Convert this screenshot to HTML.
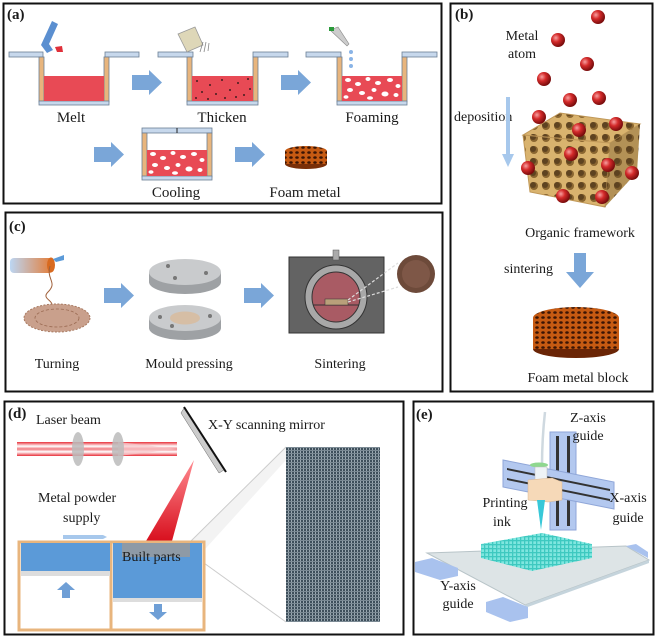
<!DOCTYPE html>
<html><head><meta charset="utf-8"><style>
html,body{margin:0;padding:0;background:#fff}
svg{display:block}
text{font-family:"Liberation Serif",serif;fill:#1a1a1a}
</style></head><body>
<svg width="656" height="637" viewBox="0 0 656 637" xmlns="http://www.w3.org/2000/svg">
<defs>
<radialGradient id="sph" cx="35%" cy="35%" r="65%"><stop offset="0" stop-color="#f7a0a0"/><stop offset="0.45" stop-color="#d42a2a"/><stop offset="1" stop-color="#7a0d0d"/></radialGradient>
<pattern id="foam" width="6" height="5" patternUnits="userSpaceOnUse"><rect width="6" height="5" fill="#c65a12"/><ellipse cx="3" cy="2.5" rx="1.8" ry="1.3" fill="#3a1404"/></pattern>
<pattern id="cube" width="12" height="12" patternUnits="userSpaceOnUse"><rect width="12" height="12" fill="#d9b36e"/><circle cx="6" cy="6" r="4" fill="#8a6630"/><circle cx="5" cy="5" r="3" fill="#5e4320"/></pattern>
<pattern id="mesh" width="3" height="3" patternUnits="userSpaceOnUse"><rect width="3" height="3" fill="#3e4f5b"/><rect width="1" height="3" fill="#9aa8b1"/><rect width="3" height="1" fill="#7b8a94"/></pattern>
<pattern id="grid" width="4" height="4" patternUnits="userSpaceOnUse"><rect width="4" height="4" fill="#7fe6df"/><rect width="1.3" height="4" fill="#3ec9c0"/><rect width="4" height="1.3" fill="#3ec9c0"/></pattern>
<linearGradient id="beam" x1="0" x2="0" y1="0" y2="1"><stop offset="0" stop-color="#e8303a"/><stop offset="0.3" stop-color="#fff"/><stop offset="0.5" stop-color="#f07a80"/><stop offset="0.7" stop-color="#fff"/><stop offset="1" stop-color="#e8303a"/></linearGradient>
<linearGradient id="cyl" x1="0" x2="1"><stop offset="0" stop-color="#bcd6f3"/><stop offset="1" stop-color="#e47b35"/></linearGradient>
<linearGradient id="cone" x1="0" x2="0" y1="0" y2="1"><stop offset="0" stop-color="#ff8a90"/><stop offset="1" stop-color="#d8101e"/></linearGradient>
<g id="arr"><path d="M0,5 H17 V0 L30,12.5 L17,25 V20 H0 Z" fill="#7aa6d8"/></g>
</defs>

<rect x="3.5" y="3.5" width="438" height="200" fill="none" stroke="#111" stroke-width="2"/>
<rect x="450.5" y="3.5" width="202" height="388" fill="none" stroke="#111" stroke-width="2"/>
<rect x="5.5" y="212.5" width="437" height="179" fill="none" stroke="#111" stroke-width="2"/>
<rect x="4.5" y="401.5" width="399" height="233" fill="none" stroke="#111" stroke-width="2"/>
<rect x="413.5" y="401.5" width="240" height="233" fill="none" stroke="#111" stroke-width="2"/>

<!-- (a) -->
<text x="7" y="19" font-size="15" font-weight="bold">(a)</text>
<g stroke="#6c7f95" stroke-width="0.8">
<rect x="9" y="52" width="34" height="5" fill="#c7d8ec"/><rect x="105" y="52" width="34" height="5" fill="#c7d8ec"/>
<rect x="39" y="57" width="5" height="45" fill="#e8b57d"/><rect x="104" y="57" width="5" height="45" fill="#e8b57d"/>
<rect x="39" y="101" width="70" height="4" fill="#c7d8ec"/>
<rect x="158" y="52" width="35" height="5" fill="#c7d8ec"/><rect x="253" y="52" width="35" height="5" fill="#c7d8ec"/>
<rect x="187" y="57" width="5" height="45" fill="#e8b57d"/><rect x="253" y="57" width="5" height="45" fill="#e8b57d"/>
<rect x="187" y="101" width="71" height="4" fill="#c7d8ec"/>
<rect x="306" y="52" width="35" height="5" fill="#c7d8ec"/><rect x="402" y="52" width="35" height="5" fill="#c7d8ec"/>
<rect x="337" y="57" width="5" height="45" fill="#e8b57d"/><rect x="402" y="57" width="5" height="45" fill="#e8b57d"/>
<rect x="337" y="101" width="70" height="4" fill="#c7d8ec"/>
<rect x="142" y="128" width="70" height="5" fill="#c7d8ec"/>
<rect x="142" y="133" width="5" height="44" fill="#e8b57d"/><rect x="207" y="133" width="5" height="44" fill="#e8b57d"/>
<rect x="142" y="176" width="70" height="4" fill="#c7d8ec"/>
</g>
<line x1="177" y1="128" x2="177" y2="133" stroke="#222"/>
<rect x="44" y="76" width="60" height="25" fill="#e84a55"/>
<rect x="192" y="76" width="61" height="25" fill="#e84a55"/>
<g fill="#111">
<circle cx="197" cy="81" r="0.9"/><circle cx="210" cy="85" r="0.9"/><circle cx="222" cy="80" r="0.9"/><circle cx="238" cy="83" r="0.9"/><circle cx="248" cy="79" r="0.9"/><circle cx="202" cy="92" r="0.9"/><circle cx="216" cy="94" r="0.9"/><circle cx="230" cy="90" r="0.9"/><circle cx="244" cy="95" r="0.9"/><circle cx="196" cy="98" r="0.9"/><circle cx="225" cy="98" r="0.9"/><circle cx="250" cy="89" r="0.9"/><circle cx="208" cy="99" r="0.9"/><circle cx="236" cy="97" r="0.9"/>
</g>
<rect x="342" y="76" width="60" height="25" fill="#e84a55"/>
<rect x="147" y="150" width="60" height="26" fill="#e84a55"/>
<g fill="#fff">
<ellipse cx="348" cy="80" rx="3" ry="2"/><ellipse cx="358" cy="84" rx="3" ry="2"/><ellipse cx="368" cy="79" rx="2.5" ry="2"/><ellipse cx="378" cy="83" rx="3" ry="2"/><ellipse cx="390" cy="80" rx="3" ry="2"/><ellipse cx="398" cy="86" rx="2.5" ry="2"/><ellipse cx="350" cy="90" rx="3" ry="2"/><ellipse cx="362" cy="93" rx="3" ry="2"/><ellipse cx="374" cy="90" rx="2.5" ry="2"/><ellipse cx="385" cy="94" rx="3.5" ry="2.5"/><ellipse cx="396" cy="95" rx="2.5" ry="2"/><ellipse cx="346" cy="97" rx="2.5" ry="1.8"/><ellipse cx="370" cy="98" rx="3" ry="1.8"/>
<ellipse cx="153" cy="154" rx="3" ry="2"/><ellipse cx="163" cy="158" rx="3" ry="2"/><ellipse cx="173" cy="153" rx="2.5" ry="2"/><ellipse cx="183" cy="157" rx="3" ry="2"/><ellipse cx="194" cy="154" rx="3" ry="2"/><ellipse cx="202" cy="160" rx="2.5" ry="2"/><ellipse cx="155" cy="165" rx="3" ry="2"/><ellipse cx="167" cy="168" rx="3" ry="2"/><ellipse cx="178" cy="165" rx="2.5" ry="2"/><ellipse cx="189" cy="169" rx="3.5" ry="2.5"/><ellipse cx="200" cy="170" rx="2.5" ry="2"/><ellipse cx="151" cy="172" rx="2.5" ry="1.8"/><ellipse cx="175" cy="173" rx="3" ry="1.8"/>
</g>
<path d="M52,21 L58,24 L49,44 L53,50 L47,53 L41,45 Z" fill="#5b8fd0"/>
<path d="M55,47 L62,46 L63,52 L57,52 Z" fill="#e0303a"/>
<path d="M178,34 L195,27 L203,45 L187,52 Z" fill="#ded7b8" stroke="#999" stroke-width="0.8"/>
<g stroke="#888" stroke-width="0.8"><line x1="203" y1="42" x2="200" y2="52"/><line x1="206" y1="42" x2="204" y2="52"/><line x1="209" y1="43" x2="208" y2="51"/></g>
<path d="M330,30 L338,27 L349,44 L347,46 Z" fill="#ccc" stroke="#888" stroke-width="0.6"/>
<rect x="329" y="27" width="5" height="4" fill="#2a9a3a"/>
<g fill="#8ab4e6"><circle cx="351" cy="52" r="2"/><circle cx="351" cy="59" r="2"/><circle cx="351" cy="66" r="2"/></g>
<use href="#arr" x="132" y="70"/><use href="#arr" x="281" y="70"/>
<use href="#arr" x="94" y="142"/><use href="#arr" x="235" y="142"/>
<ellipse cx="306" cy="164" rx="21" ry="5" fill="#7a2f08"/>
<rect x="285" y="151" width="42" height="13" fill="url(#foam)"/>
<ellipse cx="306" cy="151" rx="21" ry="5" fill="url(#foam)"/>
<g font-size="15" text-anchor="middle">
<text x="71" y="122">Melt</text><text x="222" y="122">Thicken</text><text x="372" y="122">Foaming</text>
<text x="176" y="197">Cooling</text><text x="305" y="197">Foam metal</text></g>

<!-- (b) -->
<text x="455" y="19" font-size="15" font-weight="bold">(b)</text>
<text x="522" y="40" font-size="14" text-anchor="middle">Metal</text>
<text x="522" y="58" font-size="14" text-anchor="middle">atom</text>
<text x="454" y="121" font-size="14">deposition</text>
<rect x="506" y="97" width="4" height="58" fill="#a7c8ec"/>
<path d="M502,154 L514,154 L508,167 Z" fill="#a7c8ec"/>
<path d="M523,135 L560,113 L640,124 L610,143 Z" fill="url(#cube)" stroke="#c09858" stroke-width="1"/>
<path d="M523,135 L610,143 L605,207 L530,192 Z" fill="url(#cube)" stroke="#c09858" stroke-width="1"/>
<path d="M610,143 L640,124 L637,172 L605,207 Z" fill="url(#cube)"/>
<path d="M610,143 L640,124 L637,172 L605,207 Z" fill="#5e4320" opacity="0.3"/>
<g fill="url(#sph)">
<circle cx="598" cy="17" r="7"/><circle cx="558" cy="40" r="7"/><circle cx="587" cy="64" r="7"/><circle cx="544" cy="79" r="7"/><circle cx="570" cy="100" r="7"/><circle cx="599" cy="98" r="7"/><circle cx="539" cy="117" r="7"/><circle cx="579" cy="130" r="7"/><circle cx="616" cy="124" r="7"/><circle cx="571" cy="154" r="7"/><circle cx="608" cy="165" r="7"/><circle cx="528" cy="168" r="7"/><circle cx="632" cy="173" r="7"/><circle cx="563" cy="196" r="7"/><circle cx="602" cy="197" r="7"/>
</g>
<text x="580" y="237" font-size="14" text-anchor="middle">Organic framework</text>
<text x="504" y="273" font-size="14">sintering</text>
<path d="M574,253 H586 V272 H594 L580,288 L566,272 H574 Z" fill="#7aa6d8"/>
<ellipse cx="576" cy="349" rx="43" ry="9" fill="#6a2506"/>
<rect x="533" y="318" width="86" height="31" fill="url(#foam)"/>
<ellipse cx="576" cy="318" rx="43" ry="11" fill="url(#foam)"/>
<text x="578" y="382" font-size="14" text-anchor="middle">Foam metal block</text>

<!-- (c) -->
<text x="9" y="231" font-size="15" font-weight="bold">(c)</text>
<rect x="10" y="258" width="43" height="15" rx="4" fill="url(#cyl)"/>
<ellipse cx="51" cy="265" rx="4" ry="7.5" fill="#d86a20"/>
<path d="M53,259 L64,255 L64,260 L56,262 Z" fill="#5b9ad8"/>
<path d="M50,266 C46,280 58,282 48,292 C40,300 58,300 50,310" fill="none" stroke="#a0603a" stroke-width="1"/>
<ellipse cx="57" cy="318" rx="33" ry="14" fill="#c9a08c"/>
<ellipse cx="57" cy="318" rx="33" ry="14" fill="none" stroke="#a7785f" stroke-dasharray="2 1.5" stroke-width="1"/>
<ellipse cx="57" cy="318" rx="22" ry="9" fill="none" stroke="#9a6a52" stroke-width="0.8" stroke-dasharray="3 2"/>
<use href="#arr" x="104" y="283"/><use href="#arr" x="244" y="283"/>
<path d="M149,272 V282 A36,12 0 0 0 221,282 V272 Z" fill="#9ea1a4"/>
<ellipse cx="185" cy="272" rx="36" ry="13" fill="#c9cbcd"/>
<circle cx="168" cy="266" r="2" fill="#777"/><circle cx="206" cy="273" r="2" fill="#777"/><circle cx="175" cy="278" r="2" fill="#777"/>
<path d="M149,318 V328 A36,12 0 0 0 221,328 V318 Z" fill="#9ea1a4"/>
<ellipse cx="185" cy="318" rx="36" ry="13" fill="#c9cbcd"/>
<ellipse cx="185" cy="318" rx="15" ry="6.5" fill="#d6bea5"/>
<circle cx="160" cy="317" r="2" fill="#777"/><circle cx="210" cy="316" r="2" fill="#777"/><circle cx="172" cy="326" r="2" fill="#777"/>
<rect x="289" y="257" width="95" height="76" fill="#636363" stroke="#333"/>
<rect x="333" y="250" width="6" height="10" fill="#aaa" stroke="#555" stroke-width="0.5"/>
<ellipse cx="336" cy="297" rx="31" ry="32" fill="#a8a8a8" stroke="#333"/>
<ellipse cx="336" cy="297" rx="24" ry="25" fill="#a95b64" stroke="#333"/>
<line x1="313" y1="305" x2="359" y2="305" stroke="#333" stroke-width="1"/>
<rect x="325" y="299" width="23" height="6" fill="#b9a07a" stroke="#333" stroke-width="0.5"/>
<g stroke="#ddd" stroke-dasharray="3 2" stroke-width="1.2"><line x1="348" y1="300" x2="398" y2="263"/><line x1="348" y1="302" x2="398" y2="287"/></g>
<circle cx="416" cy="274" r="19" fill="#6d4a3a"/>
<circle cx="416" cy="274" r="14" fill="#8a6150" opacity="0.6"/>
<g font-size="14" text-anchor="middle"><text x="57" y="368">Turning</text><text x="189" y="368">Mould pressing</text><text x="340" y="368">Sintering</text></g>

<!-- (d) -->
<text x="8" y="418" font-size="15" font-weight="bold">(d)</text>
<text x="36" y="424" font-size="14">Laser beam</text>
<text x="208" y="429" font-size="14">X-Y scanning mirror</text>
<rect x="17" y="442" width="160" height="14" fill="url(#beam)"/>
<path d="M118,442 L178,449 L118,456 Z" fill="#f6c6c9" opacity="0.7"/>
<ellipse cx="78" cy="449" rx="6" ry="17" fill="#bbb" opacity="0.85"/>
<ellipse cx="118" cy="449" rx="6" ry="17" fill="#bbb" opacity="0.85"/>
<path d="M181,413 L184,408 L224,470 L219,473 Z" fill="#ccc" stroke="#666" stroke-width="0.5"/>
<line x1="184" y1="407" x2="226" y2="472" stroke="#111" stroke-width="2"/>
<path d="M194,460 L146,541 L172,541 Z" fill="url(#cone)"/>
<path d="M191,541 L286,447 L286,460 L197,558" fill="#e8e8e8" opacity="0.5"/>
<line x1="191" y1="541" x2="286" y2="447" stroke="#ccc"/>
<line x1="197" y1="558" x2="286" y2="622" stroke="#ccc"/>
<rect x="286" y="447" width="94" height="175" fill="url(#mesh)"/>
<text x="38" y="502" font-size="14">Metal powder</text>
<text x="63" y="522" font-size="14">supply</text>
<path d="M63,535 H103 L107,537 L103,539 H63 Z" fill="#a7c8ec"/>
<rect x="19" y="542" width="185" height="88" fill="#fff" stroke="#e8b57d" stroke-width="3"/>
<line x1="111" y1="542" x2="111" y2="630" stroke="#e8b57d" stroke-width="3"/>
<rect x="21" y="543" width="89" height="28" fill="#5b9ad8"/>
<rect x="21" y="571" width="89" height="5" fill="#ddd"/>
<rect x="113" y="543" width="89" height="55" fill="#5b9ad8"/>
<rect x="113" y="598" width="89" height="4" fill="#ddd"/>
<rect x="122" y="543" width="68" height="14" fill="#8e9aa6"/>
<text x="122" y="561" font-size="14">Built parts</text>
<path d="M66,582 L75,590 H70 V598 H62 V590 H57 Z" fill="#6f9fd6"/>
<path d="M154,604 H162 V612 H167 L158,620 L149,612 H154 Z" fill="#6f9fd6"/>

<!-- (e) -->
<text x="416" y="419" font-size="15" font-weight="bold">(e)</text>
<path d="M427,553 L626,546 L649,560 L525,605 Z" fill="#dde4e6" stroke="#b8c4c8"/>
<path d="M525,605 L649,560 L649,563 L525,608 Z" fill="#c5d4dc"/>
<path d="M415,562 L432,558 L458,568 L458,576 L440,580 L415,572 Z" fill="#a9c2ee"/>
<path d="M486,602 L503,597 L528,607 L528,618 L510,622 L486,612 Z" fill="#a9c2ee"/>
<path d="M626,546 L636,544 L648,552 L648,558 Z" fill="#a9c2ee"/>
<rect x="550" y="432" width="26" height="98" fill="#b3c8ef" stroke="#8fa6d8"/>
<rect x="556" y="436" width="3" height="90" fill="#333"/><rect x="567" y="436" width="3" height="90" fill="#333"/>
<path d="M503,460 L614,482 L614,509 L503,487 Z" fill="#b3c8ef" stroke="#8fa6d8"/>
<path d="M507,468 L610,489 L610,491 L507,470 Z" fill="#333"/>
<path d="M507,478 L610,499 L610,501 L507,480 Z" fill="#333"/>
<path d="M545,412 C543,430 542,450 542,466" fill="none" stroke="#cfd9e0" stroke-width="2.5"/>
<ellipse cx="539" cy="465" rx="9" ry="2.5" fill="#8fd88f"/>
<rect x="535" y="467" width="12" height="18" fill="#eef3f6" stroke="#bbb" stroke-width="0.5"/>
<path d="M528,480 L552,478 L562,482 L562,500 L548,502 L528,500 Z" fill="#f6d9b8" stroke="#dcb890" stroke-width="0.5"/>
<path d="M537,500 L545,500 L541,530 Z" fill="#38c8d8"/>
<path d="M481,544 L542,533 L592,544 L532,557 Z" fill="url(#grid)"/>
<path d="M481,544 L532,557 L532,571 L481,558 Z" fill="url(#grid)"/>
<path d="M532,557 L592,544 L592,558 L532,571 Z" fill="url(#grid)"/>
<g font-size="14" text-anchor="middle">
<text x="588" y="422">Z-axis</text><text x="588" y="440">guide</text>
<text x="628" y="502">X-axis</text><text x="628" y="522">guide</text>
<text x="505" y="507">Printing</text><text x="502" y="526">ink</text>
<text x="458" y="590">Y-axis</text><text x="458" y="608">guide</text></g>
</svg>
</body></html>
